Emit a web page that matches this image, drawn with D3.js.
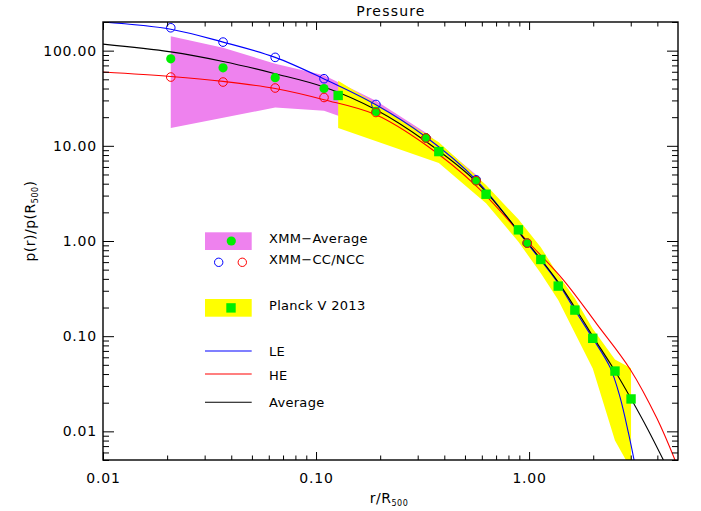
<!DOCTYPE html>
<html>
<head>
<meta charset="utf-8">
<script src="https://cdn.jsdelivr.net/npm/d3@7"></script>
<style>
  body { margin: 0; background: #fff; }
  svg { display: block; font-family: "DejaVu Sans", sans-serif; }
</style>
</head>
<body>
<div id="chart"></div>
<script>
// XMM points (average, cool-core, non-cool-core)
const xmmR = [0.0208, 0.0366, 0.0643, 0.109, 0.191, 0.328, 0.564, 0.98];
const xmmAvg = [82, 66, 52, 40, 23, 12.1, 4.3, 0.95];
const xmmCC = [174, 123, 85, 50.7, 27.2, 12.1, 4.4, 0.95];
const xmmNCC = [52.8, 46.8, 40.5, 32.2, 22.4, 12.1, 4.3, 0.95];
const xmmHi = [142, 107, 73, 55, 29.8, 13.7, 4.96, 1.1];
const xmmLo = [15.4, 19.7, 25.3, 23.4, 15, 8.5, 3.5, 0.85];

// Planck 2013 points and envelope
const planckR = [0.127, 0.377, 0.628, 0.891, 1.135, 1.37, 1.64, 1.99, 2.53, 3.01];
const planckP = [33.8, 8.7, 3.1, 1.31, 0.64, 0.336, 0.188, 0.095, 0.043, 0.0219];
const planckHi = [48.3, 10.9, 3.88, 1.69, 0.86, 0.44, 0.25, 0.12, 0.057, 0.046];
const planckLo = [15.4, 6.6, 2.5, 0.98, 0.457, 0.24, 0.108, 0.0457, 0.008, 0.004];

// model curves
const leR = [0.01, 0.0208, 0.0366, 0.0643, 0.109, 0.191, 0.328, 0.564, 0.98, 1.37, 1.64, 1.99, 2.40, 2.67, 2.93, 3.11];
const leP = [200, 168, 123, 85, 50.5, 27, 12.4, 4.4, 0.95, 0.36, 0.188, 0.095, 0.047, 0.023, 0.0095, 0.005];
const heR = [0.01, 0.0208, 0.0366, 0.0643, 0.109, 0.191, 0.328, 0.564, 0.98, 1.45, 2.08, 2.98, 3.98, 4.84];
const heP = [59.7, 53.5, 47.5, 40, 30.5, 21.2, 10.2, 3.8, 1.0, 0.389, 0.134, 0.045, 0.0137, 0.005];
const avgR = [0.01, 0.0208, 0.0366, 0.0643, 0.109, 0.191, 0.328, 0.564, 0.98, 1.37, 1.64, 1.99, 2.53, 3.01, 3.6, 4.27];
const avgP = [117, 97, 77, 57.3, 41.5, 23.9, 11.1, 4.2, 0.97, 0.37, 0.2, 0.1, 0.043, 0.022, 0.0106, 0.005];

const xMajor = [0.01, 0.1, 1];
const yMajor = [0.01, 0.1, 1, 10, 100];

const width = 701;
const height = 511;
const pL = 103, pR = 678, pT = 22, pB = 460;

const svg = d3.select("#chart").append("svg")
  .attr("width", width)
  .attr("height", height);

const x = d3.scaleLog().domain([0.01, 5]).range([pL, pR]);
const y = d3.scaleLog().domain([0.005, 200]).range([pB, pT]);

svg.append("defs").append("clipPath").attr("id", "plotClip")
  .append("rect")
  .attr("x", pL).attr("y", pT)
  .attr("width", pR - pL).attr("height", pB - pT);

const plot = svg.append("g").attr("clip-path", "url(#plotClip)");

const band = d3.area().x(d => x(d.r)).y0(d => y(d.lo)).y1(d => y(d.hi));
const zipBand = (rs, lo, hi) => rs.map((r, i) => ({r, lo: lo[i], hi: hi[i]}));

plot.append("path")
  .datum(zipBand(xmmR, xmmLo, xmmHi))
  .attr("d", band)
  .attr("fill", "#ee82ee");

plot.append("path")
  .datum(zipBand(planckR, planckLo, planckHi))
  .attr("d", band)
  .attr("fill", "#ffff00");

const line = d3.line().x(d => x(d[0])).y(d => y(d[1])).curve(d3.curveCatmullRom.alpha(0.5));
const curves = [
  {r: leR, p: leP, color: "#0000ff"},
  {r: heR, p: heP, color: "#ff0000"},
  {r: avgR, p: avgP, color: "#000000"}
];
curves.forEach(c => {
  plot.append("path")
    .datum(c.r.map((r, i) => [r, c.p[i]]))
    .attr("d", line)
    .attr("fill", "none")
    .attr("stroke", c.color)
    .attr("stroke-width", 1.1);
});

const green = "#00ee00";

// Planck squares
plot.selectAll("rect.planck")
  .data(planckR.map((r, i) => [r, planckP[i]]))
  .enter().append("rect")
  .attr("class", "planck")
  .attr("x", d => x(d[0]) - 4.7)
  .attr("y", d => y(d[1]) - 4.7)
  .attr("width", 9.4)
  .attr("height", 9.4)
  .attr("fill", green);

// XMM-CC open circles
plot.selectAll("circle.cc")
  .data(xmmR.map((r, i) => [r, xmmCC[i]]))
  .enter().append("circle")
  .attr("class", "cc")
  .attr("cx", d => x(d[0]))
  .attr("cy", d => y(d[1]))
  .attr("r", 4.3)
  .attr("fill", "none")
  .attr("stroke", "#0000ff")
  .attr("stroke-width", 1);

// XMM average filled circles
plot.selectAll("circle.avg")
  .data(xmmR.map((r, i) => [r, xmmAvg[i]]))
  .enter().append("circle")
  .attr("class", "avg")
  .attr("cx", d => x(d[0]))
  .attr("cy", d => y(d[1]))
  .attr("r", 4.6)
  .attr("fill", green);

// XMM-NCC open circles
plot.selectAll("circle.ncc")
  .data(xmmR.map((r, i) => [r, xmmNCC[i]]))
  .enter().append("circle")
  .attr("class", "ncc")
  .attr("cx", d => x(d[0]))
  .attr("cy", d => y(d[1]))
  .attr("r", 4.3)
  .attr("fill", "none")
  .attr("stroke", "#ff0000")
  .attr("stroke-width", 1);

// --- axes: IDL style, ticks pointing inward on all four sides ---
const xMinor = x.ticks().filter(v => !xMajor.some(m => Math.abs(m - v) < 1e-9) && v < 4.99);
const yMinor = y.ticks().filter(v => !yMajor.some(m => Math.abs(m - v) < 1e-9));
const fmt = d3.format(".2f");

function styleAxis(g) {
  g.select(".domain").remove();
  g.selectAll("line").attr("stroke", "#000").attr("stroke-width", 1);
  g.selectAll("text")
    .attr("font-size", 14)
    .attr("font-family", "DejaVu Sans, sans-serif")
    .attr("letter-spacing", "0.8px")
    .attr("fill", "#000");
}

svg.append("g").attr("transform", `translate(0,${pB})`)
  .call(d3.axisBottom(x).tickValues(xMajor).tickSize(-8).tickSizeOuter(0).tickPadding(13).tickFormat(fmt))
  .call(styleAxis);
svg.append("g").attr("transform", `translate(0,${pB})`)
  .call(d3.axisBottom(x).tickValues(xMinor).tickSize(-4.5).tickSizeOuter(0).tickFormat(""))
  .call(styleAxis);
svg.append("g").attr("transform", `translate(0,${pT})`)
  .call(d3.axisTop(x).tickValues(xMajor).tickSize(-8).tickSizeOuter(0).tickFormat(""))
  .call(styleAxis);
svg.append("g").attr("transform", `translate(0,${pT})`)
  .call(d3.axisTop(x).tickValues(xMinor).tickSize(-4.5).tickSizeOuter(0).tickFormat(""))
  .call(styleAxis);

svg.append("g").attr("transform", `translate(${pL},0)`)
  .call(d3.axisLeft(y).tickValues(yMajor).tickSize(-11).tickSizeOuter(0).tickPadding(6).tickFormat(fmt))
  .call(styleAxis);
svg.append("g").attr("transform", `translate(${pL},0)`)
  .call(d3.axisLeft(y).tickValues(yMinor).tickSize(-6).tickSizeOuter(0).tickFormat(""))
  .call(styleAxis);
svg.append("g").attr("transform", `translate(${pR},0)`)
  .call(d3.axisRight(y).tickValues(yMajor).tickSize(-11).tickSizeOuter(0).tickFormat(""))
  .call(styleAxis);
svg.append("g").attr("transform", `translate(${pR},0)`)
  .call(d3.axisRight(y).tickValues(yMinor).tickSize(-6).tickSizeOuter(0).tickFormat(""))
  .call(styleAxis);

svg.append("rect")
  .attr("x", pL).attr("y", pT)
  .attr("width", pR - pL).attr("height", pB - pT)
  .attr("fill", "none")
  .attr("stroke", "#000")
  .attr("stroke-width", 1.4);

// title and axis labels
svg.append("text")
  .attr("x", 391).attr("y", 15.5)
  .attr("text-anchor", "middle")
  .attr("font-size", 14)
  .attr("letter-spacing", "1.2px")
  .text("Pressure");

const xLabel = svg.append("text")
  .attr("x", 389).attr("y", 503)
  .attr("text-anchor", "middle")
  .attr("font-size", 14)
  .attr("letter-spacing", "0.5px");
xLabel.append("tspan").text("r/R");
xLabel.append("tspan").attr("font-size", 8).attr("dy", 3).text("500");

const yLabel = svg.append("text")
  .attr("transform", "translate(35,221) rotate(-90)")
  .attr("text-anchor", "middle")
  .attr("font-size", 14)
  .attr("letter-spacing", "0.5px");
yLabel.append("tspan").text("p(r)/p(R");
yLabel.append("tspan").attr("font-size", 8).attr("dy", 3).text("500");
yLabel.append("tspan").attr("dy", -3).text(")");

// legend
const legend = svg.append("g");
const lx = 205, lw = 46.7, tx = 269;

legend.append("rect").attr("x", lx).attr("y", 232.3).attr("width", lw).attr("height", 17.7).attr("fill", "#ee82ee");
legend.append("circle").attr("cx", 231.3).attr("cy", 241).attr("r", 4.6).attr("fill", green);
legend.append("circle").attr("cx", 218.7).attr("cy", 262.3).attr("r", 4.2)
  .attr("fill", "none").attr("stroke", "#0000ff").attr("stroke-width", 1);
legend.append("circle").attr("cx", 242.3).attr("cy", 262.3).attr("r", 4.2)
  .attr("fill", "none").attr("stroke", "#ff0000").attr("stroke-width", 1);
legend.append("rect").attr("x", lx).attr("y", 299).attr("width", lw).attr("height", 17.7).attr("fill", "#ffff00");
legend.append("rect").attr("x", 226.3).attr("y", 303.2).attr("width", 9.4).attr("height", 9.4).attr("fill", green);

const legendLines = [
  {y: 351, color: "#0000ff", label: "LE"},
  {y: 374, color: "#ff0000", label: "HE"},
  {y: 402.3, color: "#000000", label: "Average"}
];
legendLines.forEach(d => {
  legend.append("line")
    .attr("x1", lx).attr("x2", lx + lw)
    .attr("y1", d.y).attr("y2", d.y)
    .attr("stroke", d.color).attr("stroke-width", 1.1);
});

const legendTexts = [
  {y: 242.5, label: "XMM\u2212Average"},
  {y: 263.5, label: "XMM\u2212CC/NCC"},
  {y: 310, label: "Planck V 2013"},
  {y: 355.5, label: "LE"},
  {y: 379.5, label: "HE"},
  {y: 406.5, label: "Average"}
];
legend.selectAll("text")
  .data(legendTexts)
  .enter().append("text")
  .attr("x", tx)
  .attr("y", d => d.y)
  .attr("font-size", 13)
  .attr("letter-spacing", "0.3px")
  .text(d => d.label);
</script>
</body>
</html>
